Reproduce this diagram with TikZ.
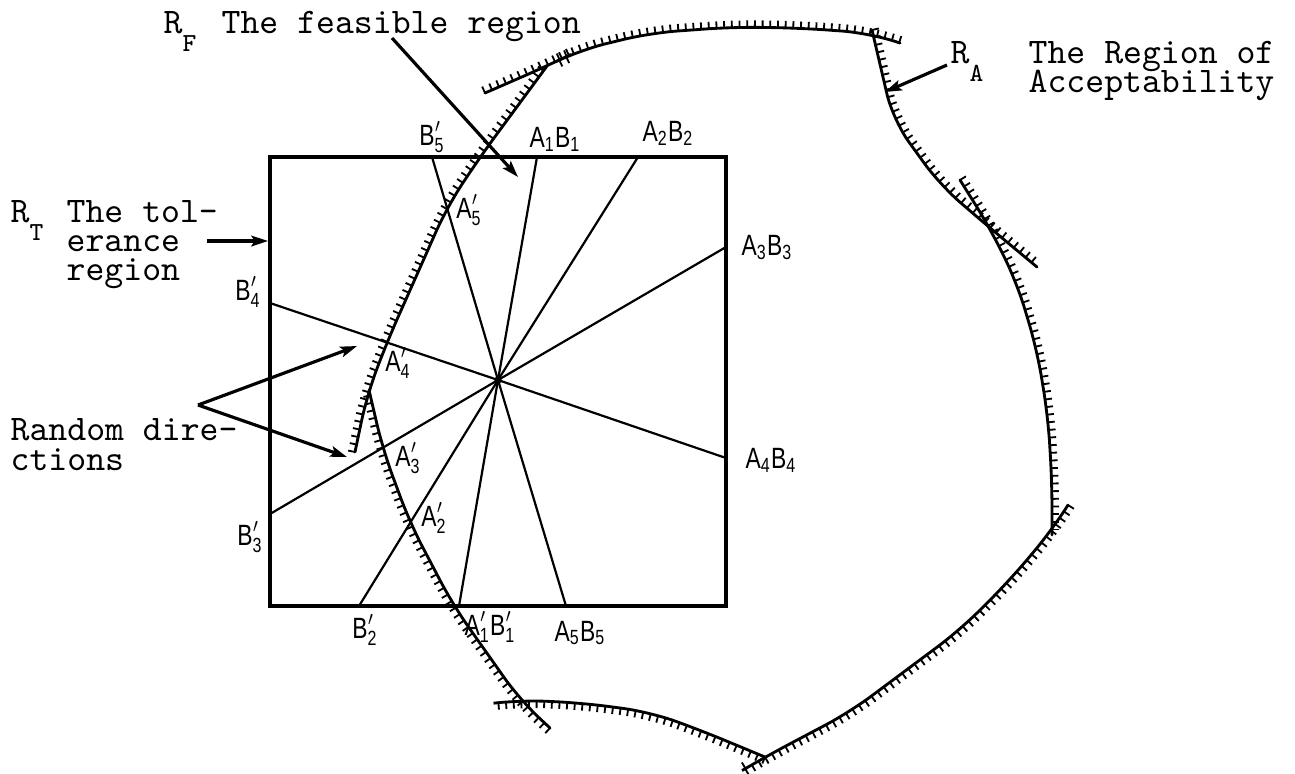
\documentclass[tikz,border=0pt]{standalone}
\usepackage{graphicx}
\usepackage{fontspec}
\setmainfont{Liberation Serif}
\setsansfont{Liberation Sans}
\usetikzlibrary{arrows.meta,decorations.markings}
\newcommand\lowsub[1]{\raisebox{-0.5em}{\fontsize{7.8}{7.8}\selectfont #1}}
\newcommand\hwlab[1]{\scalebox{0.78}[1]{$\mathsf{#1}$}}
\tikzset{
  tt/.style={font=\fontsize{10.8}{10}\ttfamily, inner sep=0pt, anchor=base west,
    text height=0.52em, text depth=0.1em},
  hw/.style={font=\fontsize{8.8}{8.8}\sffamily, inner sep=0pt},
  sq/.style={line width=1.1pt},
  ray/.style={line width=0.66pt},
  arr/.style={line width=0.95pt, -{Stealth[length=5pt,width=3.2pt,inset=1pt]}},
  hatch/.style={line width=0.85pt, line cap=round, rounded corners=8pt,
    postaction={decorate,
      decoration={markings, mark=between positions 0 and 1 step 2.3pt with
        {\draw[line width=0.55pt, line cap=butt] (0pt,0pt) -- (0pt,2.1pt);}}}}
}
\begin{document}
\begin{tikzpicture}[x=0.3pt,y=-0.3pt]
\useasboundingbox (0,0) rectangle (1295,773);
\fill[white] (0,0) rectangle (1295,773);

% tolerance square
\coordinate (SQnw) at (270,157);
\coordinate (SQse) at (726,606);
\draw[sq] (SQnw) rectangle (SQse);

% centre and chord end points
\coordinate (O) at (498,380);
\coordinate (P1) at (537,157);
\coordinate (Q1) at (459,606);
\coordinate (P2) at (638,157);
\coordinate (Q2) at (359,606);
\coordinate (P3) at (726,247);
\coordinate (Q3) at (270,514);
\coordinate (P4) at (726,458);
\coordinate (Q4) at (270,303);
\coordinate (P5) at (566,606);
\coordinate (Q5) at (432,157);

\draw[ray] (P1) -- (O) -- (Q1);
\draw[ray] (P2) -- (O) -- (Q2);
\draw[ray] (P3) -- (O) -- (Q3);
\draw[ray] (P4) -- (O) -- (Q4);
\draw[ray] (P5) -- (O) -- (Q5);
\fill (O) circle (1.1pt);

% region of acceptability boundary (hatched on the outside)
\draw[hatch] (485,93) -- (547,66) -- (580,50) -- (650,33) -- (733,27) -- (800,28) -- (869,33) -- (900,43);
\draw[hatch] (872,30) -- (893,120) -- (940,185) -- (990,228) -- (1037,267);
\draw[hatch] (960,180) -- (990,228) -- (1017,283) -- (1037,350) -- (1048,417) -- (1052,483) -- (1052,535);
\draw[hatch] (1068,505) -- (1052,530) -- (1010,580) -- (960,630) -- (850,712) -- (765,757) -- (748,767);
\draw[hatch] (765,757) -- (700,730) -- (650,712) -- (583,703) -- (520,700) -- (495,703);
\draw[hatch] (550,728) -- (520,700) -- (453,605) -- (410,523) -- (383,450) -- (369,390);
\draw[hatch] (355,452) -- (367,395) -- (387,342) -- (447,207) -- (480,157) -- (547,66);

% chord end labels
\node[hw] (lB5p) at (432,137) {\hwlab{B'_5}};
\node[hw] (lA1B1) at (555,139) {\hwlab{A_1B_1}};
\node[hw] (lA2B2) at (668,133) {\hwlab{A_2B_2}};
\node[hw] (lA5p) at (469,210) {\hwlab{A'_5}};
\node[hw] (lA3B3) at (767,247) {\hwlab{A_3B_3}};
\node[hw] (lA4B4) at (771,460) {\hwlab{A_4B_4}};
\node[hw] (lB4p) at (248,292) {\hwlab{B'_4}};
\node[hw] (lA4p) at (398,363) {\hwlab{A'_4}};
\node[hw] (lA3p) at (408,458) {\hwlab{A'_3}};
\node[hw] (lA2p) at (434,518) {\hwlab{A'_2}};
\node[hw] (lB3p) at (250,537) {\hwlab{B'_3}};
\node[hw] (lB2p) at (365,630) {\hwlab{B'_2}};
\node[hw] (lA1pB1p) at (490,627) {\hwlab{A'_1B'_1}};
\node[hw] (lA5B5) at (580,633) {\hwlab{A_5B_5}};

% texts
\node[tt] (rfR) at (163,33) {R\lowsub{F}};
\node[tt] (rfText) at (221,33) {The feasible region};
\node[tt] (raR) at (950,63) {R\lowsub{A}};
\node[tt] (raL1) at (1028,63) {The Region of};
\node[tt] (raL2) at (1028,92) {Acceptability};
\node[tt] (rtR) at (10,222) {R\lowsub{T}};
\node[tt] (rtL1) at (66,222) {The tol-};
\node[tt] (rtL2) at (66,251) {erance};
\node[tt] (rtL3) at (66,280) {region};
\node[tt] (rdL1) at (10,440) {Random dire-};
\node[tt] (rdL2) at (10,470) {ctions};

% arrows
\coordinate (rfStart) at (392,38);
\coordinate (rfTip) at (518,177);
\draw[arr] (rfStart) -- (rfTip);
\coordinate (raStart) at (947,65);
\coordinate (raTip) at (885,92);
\draw[arr] (raStart) -- (raTip);
\coordinate (rtStart) at (207,241);
\coordinate (rtTip) at (268,241);
\draw[arr] (rtStart) -- (rtTip);
\coordinate (rdV) at (198,405);
\coordinate (rdTip1) at (357,346);
\coordinate (rdTip2) at (347,457);
\draw[arr] (rdV) -- (rdTip1);
\draw[arr] (rdV) -- (rdTip2);
\end{tikzpicture}
\end{document}
